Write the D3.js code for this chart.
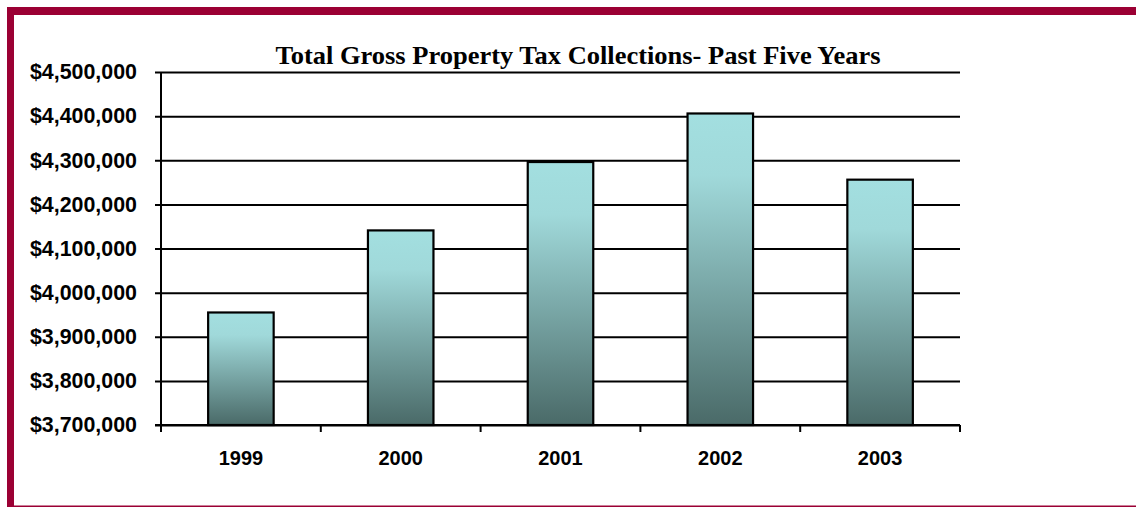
<!DOCTYPE html>
<html>
<head>
<meta charset="utf-8">
<script src="https://cdn.jsdelivr.net/npm/d3@7/dist/d3.min.js"></script>
<style>
  html, body { margin: 0; padding: 0; background: #ffffff; }
  svg { display: block; }
</style>
</head>
<body>
<svg id="chart" width="1136" height="507"></svg>
<script>
// Yearly totals of gross property tax collected
const years = ["1999", "2000", "2001", "2002", "2003"];
const collections = [3955000, 4141000, 4296000, 4406000, 4256000];
const yTicks = [3700000, 3800000, 3900000, 4000000, 4100000, 4200000, 4300000, 4400000, 4500000];
const chartTitle = "Total Gross Property Tax Collections- Past Five Years";

const svg = d3.select("#chart");
const W = 1136, H = 507;
const plot = { left: 161, right: 960, top: 72, bottom: 425 };
const frameColor = "#9b0034";

// Frame: thick top and left rules, hairline at the bottom
svg.append("rect").attr("x", 7).attr("y", 7).attr("width", W - 7).attr("height", 8).attr("fill", frameColor);
svg.append("rect").attr("x", 7).attr("y", 7).attr("width", 7).attr("height", H - 7).attr("fill", frameColor);
svg.append("rect").attr("x", 7).attr("y", H - 1.5).attr("width", W - 7).attr("height", 1.5).attr("fill", frameColor);

// Bar fill: pale aqua at the top fading to slate at the base
const defs = svg.append("defs");
const grad = defs.append("linearGradient").attr("id", "barFill")
  .attr("x1", 0).attr("y1", 0).attr("x2", 0).attr("y2", 1);
grad.append("stop").attr("offset", "0%").attr("stop-color", "#a3dfe0");
grad.append("stop").attr("offset", "20%").attr("stop-color", "#a0d9da");
grad.append("stop").attr("offset", "100%").attr("stop-color", "#4a6a68");

const x = d3.scaleBand().domain(years).range([plot.left, plot.right]).padding(0);
const y = d3.scaleLinear().domain([3700000, 4500000]).range([plot.bottom, plot.top]);

// Horizontal gridlines with tick stubs and dollar labels
const fmt = d3.format("$,.0f");
const yAxis = d3.axisLeft(y).tickValues(yTicks).tickFormat(fmt)
  .tickSizeInner(-(plot.right - plot.left)).tickSizeOuter(0).tickPadding(24);
const gy = svg.append("g").attr("transform", `translate(${plot.left},0)`).call(yAxis);
gy.select(".domain").remove();
gy.selectAll(".tick line").attr("stroke", "#000").attr("stroke-width", 2)
  .attr("x1", -6);
gy.selectAll(".tick text")
  .attr("font-family", "Arial, 'Liberation Sans', sans-serif")
  .attr("font-weight", "bold").attr("font-size", "21.4px").attr("fill", "#000");

// Bars
const barW = x.bandwidth() * 0.41;
svg.append("g").selectAll("rect").data(years).join("rect")
  .attr("x", d => x(d) + (x.bandwidth() - barW) / 2)
  .attr("y", (d, i) => y(collections[i]))
  .attr("width", barW)
  .attr("height", (d, i) => y(3700000) - y(collections[i]))
  .attr("fill", "url(#barFill)")
  .attr("stroke", "#000").attr("stroke-width", 2.2);

// Axes lines
svg.append("line").attr("x1", plot.left).attr("x2", plot.left)
  .attr("y1", plot.top).attr("y2", plot.bottom + 6)
  .attr("stroke", "#000").attr("stroke-width", 2);
svg.append("line").attr("x1", plot.left - 6).attr("x2", plot.right)
  .attr("y1", plot.bottom).attr("y2", plot.bottom)
  .attr("stroke", "#000").attr("stroke-width", 2);

// Category separators below the baseline
const edges = years.map(d => x(d)).concat([x(years[years.length - 1]) + x.bandwidth()]);
svg.append("g").selectAll("line").data(edges).join("line")
  .attr("x1", d => d).attr("x2", d => d)
  .attr("y1", plot.bottom).attr("y2", plot.bottom + 7)
  .attr("stroke", "#000").attr("stroke-width", 2);

// Year labels
svg.append("g").selectAll("text").data(years).join("text")
  .attr("x", d => x(d) + x.bandwidth() / 2)
  .attr("y", 465)
  .attr("text-anchor", "middle")
  .attr("font-family", "Arial, 'Liberation Sans', sans-serif")
  .attr("font-weight", "bold").attr("font-size", "20px").attr("fill", "#000")
  .text(d => d);

// Title
svg.append("text")
  .attr("x", 578).attr("y", 64)
  .attr("text-anchor", "middle")
  .attr("font-family", "'Times New Roman', 'Liberation Serif', serif")
  .attr("font-weight", "bold").attr("font-size", "25.5px").attr("fill", "#000")
  .attr("textLength", 605).attr("lengthAdjust", "spacingAndGlyphs")
  .text(chartTitle);
</script>
</body>
</html>
